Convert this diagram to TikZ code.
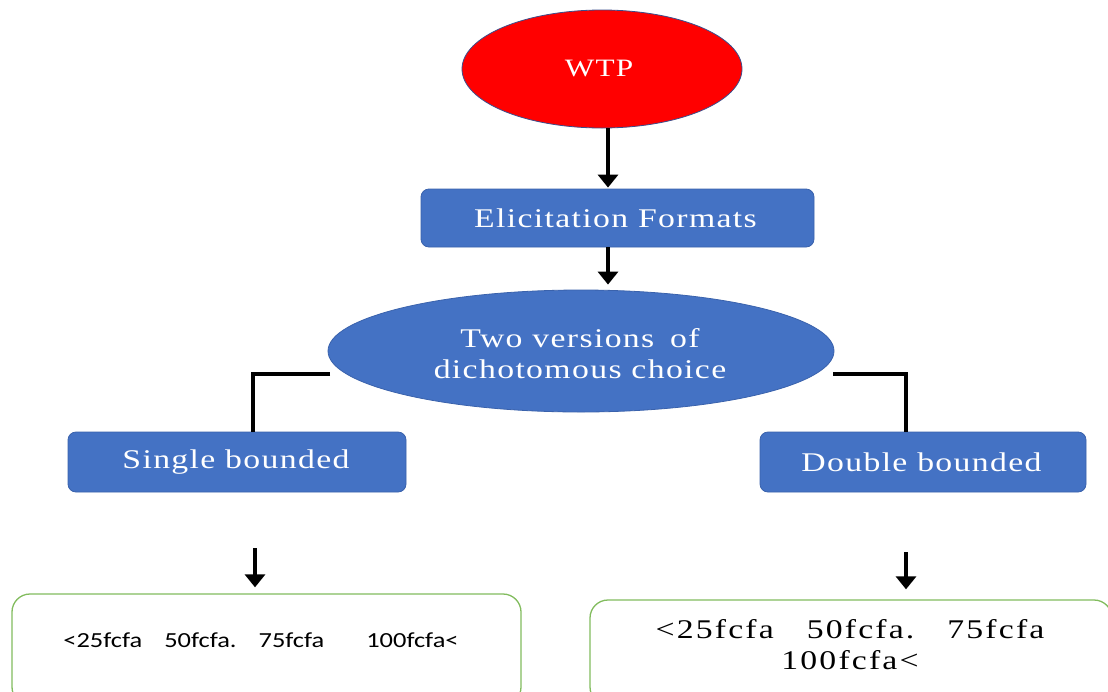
\documentclass[tikz,border=0pt]{standalone}
\usepackage{fontspec}
\setmainfont{Liberation Serif}
\newfontfamily\bluefont[FakeStretch=1.25,LetterSpace=5]{Liberation Serif}
\newfontfamily\numfont[FakeStretch=1.25,LetterSpace=8]{Liberation Serif}
\newfontfamily\calib[FakeStretch=1.23]{Carlito}
\usetikzlibrary{shapes.geometric,arrows.meta}
\definecolor{boxblue}{HTML}{4472C4}
\definecolor{boxedge}{HTML}{3A62AC}
\definecolor{redfill}{HTML}{FF0000}
\definecolor{rededge}{HTML}{3B4E8C}
\definecolor{greenedge}{HTML}{82BC5E}
\tikzset{
  bluebox/.style={rectangle, rounded corners=8pt, fill=boxblue, draw=boxedge, line width=0.8pt,
    text=white, inner sep=0pt, font=\bluefont\fontsize{27}{31}\selectfont},
  blueell/.style={ellipse, fill=boxblue, draw=boxedge, line width=0.8pt, inner sep=0pt,
    text=white, align=center, font=\bluefont\fontsize{27}{31}\selectfont},
  greenbox/.style={rectangle, rounded corners=18pt, draw=greenedge, line width=1.3pt, fill=white, inner sep=0pt},
  arr/.style={line width=3.6pt, -{Triangle[width=20pt,length=13pt]}},
  conn/.style={line width=3.6pt},
}
\begin{document}
\begin{tikzpicture}[x=1pt,y=-1pt]
\useasboundingbox (0,0) rectangle (1108,691);
\fill[white] (0,0) rectangle (1108,691);

\node[ellipse, fill=redfill, draw=rededge, line width=0.8pt, inner sep=0pt,
  minimum width=280pt, minimum height=118pt] (wtp) at (602,69) {};
\node[text=white, inner sep=0pt, font=\bluefont\fontsize{25}{30}\selectfont] (wtpt) at (599,69) {WTP};

\node[bluebox, minimum width=393pt, minimum height=58pt] (elic) at (617.5,218) {};
\node[text=white, inner sep=0pt, font=\bluefont\fontsize{27}{31}\selectfont] (elict) at (615.5,218) {Elicitation Formats};

\node[blueell, minimum width=506pt, minimum height=122pt] (two) at (581,351) {};
\node[text=white, inner sep=0pt, align=center, font=\bluefont\fontsize{27}{31}\selectfont] (twot) at (580,354)
  {Two versions\hspace{6pt} of\\dichotomous choice};

\node[bluebox, minimum width=338pt, minimum height=60pt] (single) at (237,462) {};
\node[text=white, inner sep=0pt, font=\bluefont\fontsize{27}{31}\selectfont] (singlet) at (236,462) {Single bounded};
\node[bluebox, minimum width=326pt, minimum height=60pt] (double) at (923,462) {};
\node[text=white, inner sep=0pt, font=\bluefont\fontsize{27}{31}\selectfont] (doublet) at (921.5,462) {Double bounded};

\node[greenbox, minimum width=509pt, minimum height=111pt] (lbox) at (266.5,649.5) {};
\node[greenbox, minimum width=522pt, minimum height=105pt] (rbox) at (851,652.5) {};

\node[font=\calib\fontsize{21.5}{26}\selectfont, inner sep=0pt] (ltext) at (261,640)
  {<25fcfa\hspace{22pt}50fcfa.\hspace{22pt}75fcfa\hspace{42pt}100fcfa<};
\node[font=\numfont\fontsize{27}{31}\selectfont, align=center, inner sep=0pt] (rtext) at (850,645)
  {<25fcfa\hspace{33pt}50fcfa.\hspace{33pt}75fcfa\\100fcfa<};

\draw[arr] ([xshift=6pt]wtp.south) -- ([xshift=-9.5pt,yshift=1pt]elic.north);
\draw[arr] ([xshift=-9.5pt]elic.south) -- ([xshift=27pt,yshift=5pt]two.north);

\coordinate (lA) at (330,374);
\coordinate (rA) at (833,374);
\draw[conn] (lA) -| ([xshift=16pt]single.north);
\draw[conn] (rA) -| ([xshift=-17pt]double.north);

\coordinate (lB) at (255,548);
\coordinate (rB) at (906,552);
\draw[arr] (lB) -- ([xshift=-11.5pt,yshift=6pt]lbox.north);
\draw[arr] (rB) -- ([xshift=55pt,yshift=10pt]rbox.north);
\end{tikzpicture}
\end{document}
